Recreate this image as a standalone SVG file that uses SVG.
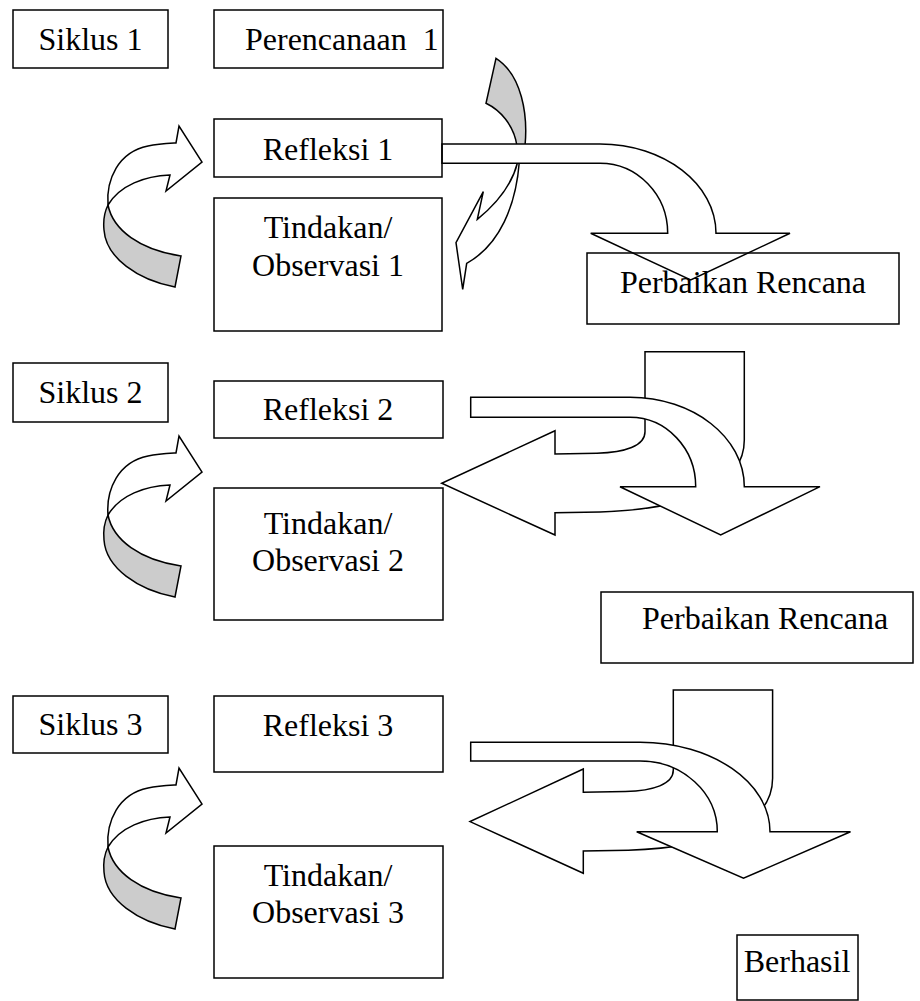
<svg xmlns="http://www.w3.org/2000/svg" width="920" height="1001" viewBox="0 0 920 1001">
<style>
.box{fill:none;stroke:#000;stroke-width:1.5}
.t{font-family:"Liberation Serif","Times New Roman",serif;font-size:32px;fill:#000}
.m{text-anchor:middle}
.w{fill:#fff;stroke:#000;stroke-width:1.5;stroke-linejoin:miter}
.g{fill:#cccccc;stroke:#000;stroke-width:1.5}
</style>
<defs>
<g id="loop">
<path class="g" d="M108,205 C113,230 140,250 181,256 L175,287 C138,280 106,258 104,230 C103,220 105,211 108,205 Z"/>
<path class="w" d="M108,205 C106,180 118,152 148,146 C158,144 168,143.5 176,143 L179,126 L202,162 L166,191 L170,175 C145,176 120,185 108,205 Z"/>
</g>
</defs>
<rect width="920" height="1001" fill="#fff"/>
<g id="connectors">
<use href="#loop"/>
<use href="#loop" y="310"/>
<use href="#loop" y="642"/>
<path class="g" d="M496,58.3 L486,103.3 C500,110 514,125 517,146 L525,146 C528,115 522,75 496,58.3 Z"/>
<path class="w" d="M519.3,162 C516,205 500,245 466.7,263.3 L462.7,289.3 L456,242.7 L483.3,191.7 L477.3,219.3 C495,205 512,185 517.7,162 Z"/>
<path class="w" d="M442,144 L600,144 C664,144 716,184 716,233.3 L790,233.3 L690.7,280 L590.7,233.3 L667.7,233.3 C667.7,194.7 637.4,163.3 600,163.3 L442,163.3 Z"/>
<path class="w" d="M645,351.7 L744.3,351.7 L744.3,440 C744.3,485 690,509 600,512 L555,512.7 L555,535 L441.7,483.3 L555,430.7 L555,454 L597,453.3 C625,452.5 645,446 645,431.7 Z"/>
<path class="w" d="M470.7,397.3 L630,397.3 C693.1,397.3 744.3,437.3 744.3,486.7 L820,486.7 L720.7,535 L620,486.7 L695.7,486.7 C695.7,448.4 666.3,417.3 630,417.3 L470.7,417.3 Z"/>
<path class="w" d="M673.3,690 L772.6,690 L772.6,778.3 C772.6,823.3 718.3,847.3 628.3,850.3 L583.3,851 L583.3,873.3 L470,821.6 L583.3,769 L583.3,792.3 L625.3,791.6 C653.3,790.8 673.3,784.3 673.3,770 Z"/>
<path class="w" d="M470.7,742.3 L640,742.3 C711.8,742.3 770,782.3 770,831.7 L850.5,831.7 L743.5,878.3 L636.7,831.7 L717.3,831.7 C717.3,792.7 682.7,761 640,761 L470.7,761 Z"/>
</g>
<g id="siklus1"><rect class="box" x="13" y="10" width="155" height="58"/><text class="t m" x="90.5" y="50">Siklus 1</text></g>
<g id="perencanaan1"><rect class="box" x="214" y="10" width="229" height="58"/><text class="t" x="245" y="50" xml:space="preserve">Perencanaan  1</text></g>
<g id="refleksi1"><rect class="box" x="214" y="119" width="228" height="58"/><text class="t m" x="328" y="160">Refleksi 1</text></g>
<g id="tindakan1"><rect class="box" x="214" y="198" width="228" height="133"/><text class="t m" x="328" y="238">Tindakan/</text><text class="t m" x="328" y="276">Observasi 1</text></g>
<g id="perbaikan1"><rect class="box" x="587" y="253" width="312" height="71"/><text class="t m" x="743" y="293">Perbaikan Rencana</text></g>
<g id="siklus2"><rect class="box" x="13" y="363" width="155" height="59"/><text class="t m" x="90.5" y="403">Siklus 2</text></g>
<g id="refleksi2"><rect class="box" x="214" y="381" width="229" height="57"/><text class="t m" x="328" y="420">Refleksi 2</text></g>
<g id="tindakan2"><rect class="box" x="214" y="488" width="229" height="132"/><text class="t m" x="328" y="534">Tindakan/</text><text class="t m" x="328" y="571">Observasi 2</text></g>
<g id="perbaikan2"><rect class="box" x="601" y="592" width="312" height="71"/><text class="t" x="642" y="629">Perbaikan Rencana</text></g>
<g id="siklus3"><rect class="box" x="13" y="696" width="155" height="57"/><text class="t m" x="90.5" y="735">Siklus 3</text></g>
<g id="refleksi3"><rect class="box" x="214" y="696" width="229" height="76"/><text class="t m" x="328" y="736">Refleksi 3</text></g>
<g id="tindakan3"><rect class="box" x="214" y="846" width="229" height="132"/><text class="t m" x="328" y="886">Tindakan/</text><text class="t m" x="328" y="923">Observasi 3</text></g>
<g id="berhasil"><rect class="box" x="737" y="935" width="121" height="65"/><text class="t m" x="797" y="972">Berhasil</text></g>
</svg>
